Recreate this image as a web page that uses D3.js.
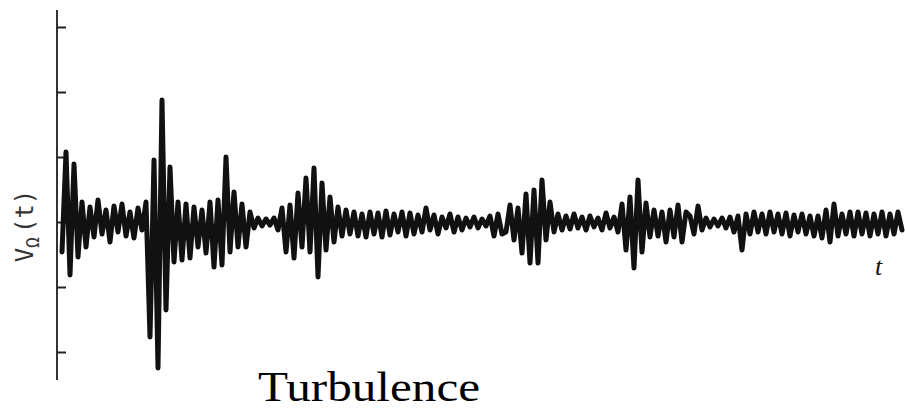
<!DOCTYPE html>
<html lang="en">
    <head>
        <meta charset="utf-8">
        <title>Turbulence</title>
        <script type="text/javascript" src="https://d3js.org/d3.v7.min.js"></script>
        <style type="text/css">
            body { margin: 0; background: #fff; }
        </style>
    </head>
    <body>
        <div id="chart"></div>
        <script type="text/javascript">

            // signal samples (equal time steps, arbitrary amplitude units)
            var signal = [
                -30, 70, -53, 58, -35, 20, -25, 15, -15, 22,
                -12, 12, -20, 16, -10, 18, -14, 10, -16, 14,
                -8, 20, -115, 62, -146, 122, -88, 55, -40, 20,
                -38, 18, -36, 15, -25, 12, -31, 20, -45, 22,
                -43, 65, -30, 30, -25, 18, -25, 10, -6, 4,
                -4, 3, -3, 4, -8, 14, -30, 17, -36, 29,
                -25, 44, -30, 54, -55, 39, -28, 25, -20, 15,
                -14, 12, -12, 10, -14, 8, -15, 10, -12, 9,
                -15, 11, -13, 8, -10, 10, -14, 9, -12, 7,
                -10, 14, -8, 7, -12, 5, -6, 8, -10, 5,
                -8, 4, -5, 5, -6, 3, -4, 6, -14, 8,
                -12, -10, 17, -18, 14, -31, 28, -41, 32, -41,
                42, -18, 20, -10, 8, -8, 6, -7, 8, -6,
                5, -8, 6, -5, 4, -8, 9, -6, 5, -10,
                18, -28, 25, -46, 42, -30, 19, -15, 12, -14,
                10, -20, 12, -15, 17, -20, 10, 6, -12, 16,
                -8, 4, -5, 3, -4, 4, -6, 5, -10, 6,
                -28, 8, -12, 10, -10, 8, -12, 10, -10, 8,
                -12, 9, -14, 7, -10, 8, -12, 6, -14, 6,
                -16, 12, -20, 18, -14, 8, -12, 10, -14, 10,
                -12, 9, -14, 8, -12, 10, -14, 8, -12, 10,
                -8
            ];
            var yTicks = [-130, -65, 0, 65, 130, 195];
            var yLabel = "V";
            var yLabelSub = "Ω";
            var yLabelTail = "(t)";
            var xLabel = "t";
            var caption = "Turbulence";

            var width = 905, height = 411;

            var svg = d3.select("#chart")
                .append("svg")
                    .attr("width", width)
                    .attr("height", height);

            // scales
            var x = d3.scaleLinear()
                .domain([0, signal.length - 1])
                .range([62, 902]);
            var y = d3.scaleLinear()
                .domain([-158, 212])
                .range([380, 10]);

            // y axis: plain line with ticks pointing inward
            var axis = svg.append("g")
                .attr("transform", "translate(57,0)")
                .call(d3.axisRight(y).tickValues(yTicks).tickSize(9).tickFormat(""));
            axis.select(".domain")
                .attr("d", "M0," + y.range()[0] + "V" + y.range()[1])
                .attr("stroke", "#333")
                .attr("stroke-width", 2);
            axis.selectAll(".tick line")
                .attr("stroke", "#222")
                .attr("stroke-width", 2);

            // the trace
            svg.append("path")
                .datum(signal)
                .attr("fill", "none")
                .attr("stroke", "#111")
                .attr("stroke-width", 5)
                .attr("stroke-linejoin", "round")
                .attr("stroke-linecap", "round")
                .attr("d", d3.line()
                    .x(function(d, i) { return x(i); })
                    .y(function(d) { return y(d); })
                );

            // y label, rotated
            var yl = svg.append("text")
                .attr("transform", "translate(33," + (y(0) + 4) + ") rotate(-90)")
                .attr("text-anchor", "middle")
                .attr("font-family", "DejaVu Sans Mono")
                .attr("font-size", 24)
                .attr("fill", "#333");
            yl.append("tspan").text(yLabel);
            yl.append("tspan").attr("font-size", 18).attr("dy", 6).text(yLabelSub);
            yl.append("tspan").attr("dy", -6).attr("dx", 4).text(yLabelTail);

            // x label
            svg.append("text")
                .attr("x", 875)
                .attr("y", 275)
                .attr("font-family", "Liberation Serif")
                .attr("font-style", "italic")
                .attr("font-size", 26)
                .attr("fill", "#111")
                .text(xLabel);

            // caption
            svg.append("text")
                .attr("x", 258)
                .attr("y", 401)
                .attr("font-family", "Liberation Serif")
                .attr("font-size", 43)
                .attr("textLength", 222)
                .attr("lengthAdjust", "spacingAndGlyphs")
                .attr("fill", "#000")
                .text(caption);
        </script>
    </body>
</html>
